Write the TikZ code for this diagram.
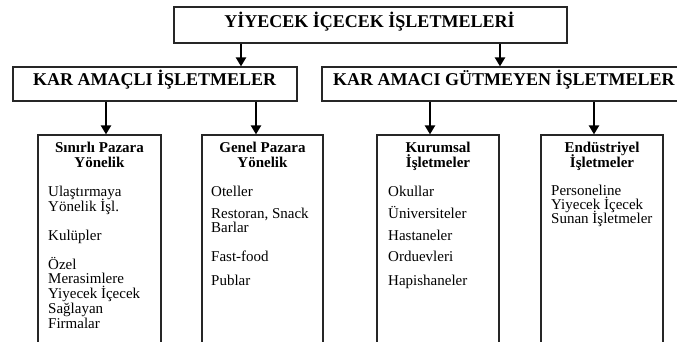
\documentclass[tikz,border=0pt]{standalone}
\usepackage{fontspec}
\setmainfont{Liberation Serif}
\usetikzlibrary{arrows.meta}
\begin{document}
\begin{tikzpicture}[x=1pt,y=-1pt,
  box/.style={draw=black!85, line width=1.2pt, inner sep=0pt, fill=white},
  arr/.style={line width=2.7pt, -{Triangle[width=10pt,length=9pt]}},
  big/.style={font=\fontsize{18}{18}\selectfont\bfseries, inner sep=0pt},
  head/.style={font=\fontsize{15}{15}\selectfont\bfseries, inner sep=0pt, anchor=base},
  body/.style={font=\fontsize{15}{15}\selectfont, inner sep=0pt, anchor=base west}]
\useasboundingbox (0,0) rectangle (677,342);
\clip (0,0) rectangle (677,342);

% boxes
\node[box, minimum width=393pt, minimum height=36pt] (top) at (370.5,25) {};
\node[box, minimum width=284pt, minimum height=34pt] (kar) at (155,84) {};
\node[box, minimum width=368pt, minimum height=34pt] (kag) at (506,84) {};
\node[box, minimum width=123pt, minimum height=225pt] (b1) at (99.5,247.5) {};
\node[box, minimum width=121pt, minimum height=225pt] (b2) at (262.5,247.5) {};
\node[box, minimum width=122pt, minimum height=225pt] (b3) at (438,247.5) {};
\node[box, minimum width=122pt, minimum height=225pt] (b4) at (602,247.5) {};

% arrows
\draw[arr] (top.south -| 241,0) -- (kar.north -| 241,0);
\draw[arr] (top.south -| 500,0) -- (kag.north -| 500,0);
\draw[arr] (kar.south -| 106,0) -- (b1.north -| 106,0);
\draw[arr] (kar.south -| 256,0) -- (b2.north -| 256,0);
\draw[arr] (kag.south -| 430,0) -- (b3.north -| 430,0);
\draw[arr] (kag.south -| 594,0) -- (b4.north -| 594,0);

% titles
\node[big, anchor=base] (ttl) at (369.5,27.5) {YİYECEK İÇECEK İŞLETMELERİ};
\node[big, anchor=base west] (karT) at (33,86) {KAR AMAÇLI İŞLETMELER};
\node[big, anchor=base west] (kagT) at (333,86) {KAR AMACI GÜTMEYEN İŞLETMELER};

% headers
\node[head] (h1a) at (99.5,153) {Sınırlı Pazara};
\node[head] (h1b) at (99.5,167) {Yönelik};
\node[head] (h2a) at (262.5,153) {Genel Pazara};
\node[head] (h2b) at (262.5,167) {Yönelik};
\node[head] (h3a) at (438,153) {Kurumsal};
\node[head] (h3b) at (438,167) {İşletmeler};
\node[head] (h4a) at (602,153) {Endüstriyel};
\node[head] (h4b) at (602,167) {İşletmeler};

% bodies
\foreach \t/\y [count=\i] in {Ulaştırmaya/196.5, Yönelik İşl./211.5, Kulüpler/240.5,
  Özel/269.5, Merasimlere/283.5, Yiyecek İçecek/298.5, Sağlayan/313.5, Firmalar/328.5}
  \node[body] (ba\i) at (48,\y) {\t};
\foreach \t/\y [count=\i] in {Oteller/196.5, {Restoran, Snack}/218.5, Barlar/232.5,
  Fast-food/261.5, Publar/285.5}
  \node[body] (bb\i) at (211,\y) {\t};
\foreach \t/\y [count=\i] in {Okullar/196.5, Üniversiteler/218.5, Hastaneler/240.5,
  Orduevleri/261.5, Hapishaneler/285.5}
  \node[body] (bc\i) at (388,\y) {\t};
\foreach \t/\y [count=\i] in {Personeline/195.5, Yiyecek İçecek/209.5, Sunan İşletmeler/223.5}
  \node[body] (bd\i) at (551,\y) {\t};
\end{tikzpicture}
\end{document}
